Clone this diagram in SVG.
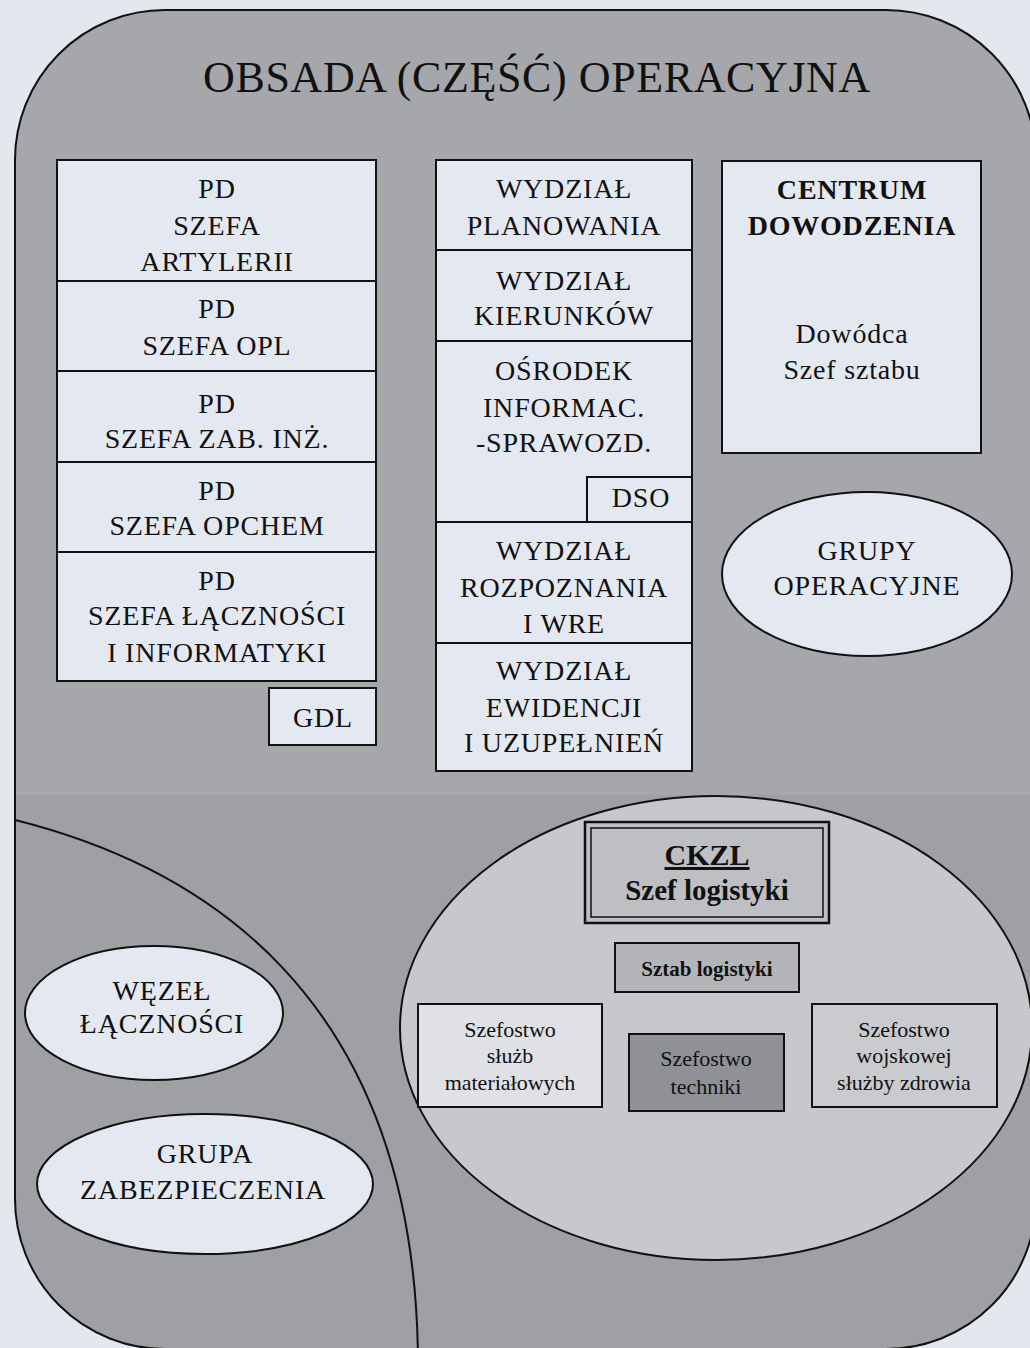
<svg xmlns="http://www.w3.org/2000/svg" width="1030" height="1348" viewBox="0 0 1030 1348">
<defs>
<style>
.t{font-family:"Liberation Serif","Times New Roman",serif;fill:#111;text-anchor:middle}
.u{font-size:28px;letter-spacing:0.8px}
.b{font-weight:bold}
.s{font-size:22px}
.box{fill:#e4e8f0;stroke:#111;stroke-width:2}
.ell{fill:#e4e8f0;stroke:#111;stroke-width:2}
.line{fill:none;stroke:#111;stroke-width:2}
</style>
<clipPath id="outerClip"><rect x="15" y="10" width="1021" height="1339" rx="150"/></clipPath>
</defs>
<rect width="1030" height="1348" fill="#e3e7ee"/>
<g id="frame">
<rect x="15" y="10" width="1021" height="1339" rx="150" fill="#a5a7ab"/>
<g clip-path="url(#outerClip)">
<rect x="0" y="795" width="1040" height="560" fill="#9ea0a4"/>
<path class="line" d="M15,820 C195,865 415,990 418,1360"/>
</g>
<rect x="15" y="10" width="1021" height="1339" rx="150" class="line"/>
<text class="t" x="537" y="92" font-size="44" letter-spacing="0.6">OBSADA (CZĘŚĆ) OPERACYJNA</text>
</g>
<g id="pd-artylerii">
<rect class="box" x="57" y="160" width="319" height="121"/>
<text class="t u" x="217" y="198">PD</text>
<text class="t u" x="217" y="235">SZEFA</text>
<text class="t u" x="217" y="271">ARTYLERII</text>
</g>
<g id="pd-opl">
<rect class="box" x="57" y="281" width="319" height="90"/>
<text class="t u" x="217" y="318">PD</text>
<text class="t u" x="217" y="355">SZEFA OPL</text>
</g>
<g id="pd-zab-inz">
<rect class="box" x="57" y="371" width="319" height="91"/>
<text class="t u" x="217" y="413">PD</text>
<text class="t u" x="217" y="448">SZEFA ZAB. INŻ.</text>
</g>
<g id="pd-opchem">
<rect class="box" x="57" y="462" width="319" height="90"/>
<text class="t u" x="217" y="500">PD</text>
<text class="t u" x="217" y="535">SZEFA OPCHEM</text>
</g>
<g id="pd-lacznosci">
<rect class="box" x="57" y="552" width="319" height="129"/>
<text class="t u" x="217" y="590">PD</text>
<text class="t u" x="217" y="625">SZEFA ŁĄCZNOŚCI</text>
<text class="t u" x="217" y="662">I INFORMATYKI</text>
</g>
<g id="gdl">
<rect class="box" x="269" y="688" width="107" height="57"/>
<text class="t u" x="323" y="727">GDL</text>
</g>
<g id="wydzial-planowania">
<rect class="box" x="436" y="160" width="256" height="90"/>
<text class="t u" x="564" y="198">WYDZIAŁ</text>
<text class="t u" x="564" y="235">PLANOWANIA</text>
</g>
<g id="wydzial-kierunkow">
<rect class="box" x="436" y="250" width="256" height="91"/>
<text class="t u" x="564" y="290">WYDZIAŁ</text>
<text class="t u" x="564" y="325">KIERUNKÓW</text>
</g>
<g id="osrodek">
<rect class="box" x="436" y="341" width="256" height="181"/>
<text class="t u" x="564" y="380">OŚRODEK</text>
<text class="t u" x="564" y="417">INFORMAC.</text>
<text class="t u" x="564" y="452">-SPRAWOZD.</text>
</g>
<g id="dso">
<rect class="box" x="587" y="477" width="105" height="45"/>
<text class="t u" x="641" y="507">DSO</text>
</g>
<g id="wydzial-rozpoznania">
<rect class="box" x="436" y="522" width="256" height="121"/>
<text class="t u" x="564" y="560">WYDZIAŁ</text>
<text class="t u" x="564" y="597">ROZPOZNANIA</text>
<text class="t u" x="564" y="633">I WRE</text>
</g>
<g id="wydzial-ewidencji">
<rect class="box" x="436" y="643" width="256" height="128"/>
<text class="t u" x="564" y="680">WYDZIAŁ</text>
<text class="t u" x="564" y="717">EWIDENCJI</text>
<text class="t u" x="564" y="752">I UZUPEŁNIEŃ</text>
</g>
<g id="centrum-dowodzenia">
<rect class="box" x="722" y="161" width="259" height="292"/>
<text class="t u b" x="852" y="199">CENTRUM</text>
<text class="t u b" x="852" y="235">DOWODZENIA</text>
<text class="t u" x="852" y="343">Dowódca</text>
<text class="t u" x="852" y="379">Szef sztabu</text>
</g>
<g id="grupy-operacyjne">
<ellipse class="ell" cx="867" cy="574" rx="145" ry="82"/>
<text class="t u" x="867" y="560">GRUPY</text>
<text class="t u" x="867" y="595">OPERACYJNE</text>
</g>
<g id="wezel-lacznosci">
<ellipse class="ell" cx="154" cy="1013" rx="129" ry="67"/>
<text class="t u" x="162" y="1000">WĘZEŁ</text>
<text class="t u" x="162" y="1033">ŁĄCZNOŚCI</text>
</g>
<g id="grupa-zabezpieczenia">
<ellipse class="ell" cx="205" cy="1184" rx="168" ry="70"/>
<text class="t u" x="205" y="1163">GRUPA</text>
<text class="t u" x="203" y="1199">ZABEZPIECZENIA</text>
</g>
<g id="logistyka">
<ellipse cx="716" cy="1028" rx="316" ry="232" fill="#c6c8cc" stroke="#111" stroke-width="2"/>
</g>
<g id="ckzl">
<rect x="585" y="822" width="244" height="101" fill="#bdbfc3" stroke="#111" stroke-width="2.5"/>
<rect x="591" y="828" width="232" height="89" fill="none" stroke="#111" stroke-width="1.5"/>
<text class="t b" x="707" y="865" font-size="30" text-decoration="underline">CKZL</text>
<text class="t b" x="707" y="900" font-size="29">Szef logistyki</text>
</g>
<g id="sztab-logistyki">
<rect x="615" y="943" width="184" height="49" fill="#b3b5b9" stroke="#111" stroke-width="2"/>
<text class="t b" x="707" y="976" font-size="21">Sztab logistyki</text>
</g>
<g id="szefostwo-sluzb-materialowych">
<rect x="418" y="1004" width="184" height="103" fill="#dfe1e6" stroke="#111" stroke-width="2"/>
<text class="t s" x="510" y="1037">Szefostwo</text>
<text class="t s" x="510" y="1063">służb</text>
<text class="t s" x="510" y="1090">materiałowych</text>
</g>
<g id="szefostwo-techniki">
<rect x="629" y="1034" width="155" height="77" fill="#8f9196" stroke="#111" stroke-width="2"/>
<text class="t s" x="706" y="1066">Szefostwo</text>
<text class="t s" x="706" y="1094">techniki</text>
</g>
<g id="szefostwo-wsz">
<rect x="812" y="1004" width="185" height="103" fill="#c9cbcf" stroke="#111" stroke-width="2"/>
<text class="t s" x="904" y="1037">Szefostwo</text>
<text class="t s" x="904" y="1063">wojskowej</text>
<text class="t s" x="904" y="1090">służby zdrowia</text>
</g>
<g id="connectors"/>
</svg>
